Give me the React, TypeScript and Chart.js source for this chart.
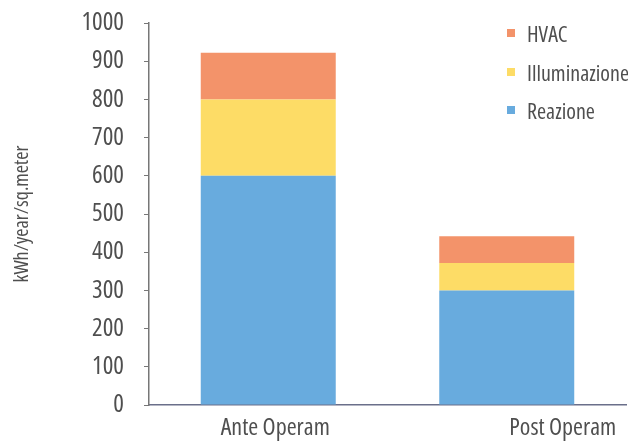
import React, { useEffect, useRef } from "react";
import { Chart, registerables } from "chart.js";

Chart.register(...registerables);

const categories = ["Ante Operam", "Post Operam"];
const reazione = [600, 300];
const illuminazione = [200, 72];
const hvac = [122, 70];
const yTicks = [0, 100, 200, 300, 400, 500, 600, 700, 800, 900, 1000];
const seriesNames = ["HVAC", "Illuminazione", "Reazione"];
const yTitle = "kWh/year/sq.meter";

// horizontal nudge of each category label relative to its bar (style only)
const labelShift = [7, 56];

const COL_BLUE = "rgb(104,171,222)";
const COL_YELLOW = "rgb(253,220,102)";
const COL_ORANGE = "rgb(243,147,106)";
const FAMILY = "'Open Sans', 'Roboto Condensed', sans-serif";
const TEXT = "#4f4f4f";

const catLabelPlugin = {
  id: "catLabels",
  afterDraw(chart: any) {
    const xs = chart.scales.x;
    const c = chart.ctx;
    c.save();
    c.font = "condensed 24px " + FAMILY;
    c.fillStyle = TEXT;
    c.textAlign = "center";
    c.textBaseline = "alphabetic";
    categories.forEach((lab, i) => {
      const x = xs.getPixelForValue(i) + labelShift[i];
      c.fillText(lab, x, xs.top + 30);
    });
    c.restore();
  },
};

export default function App() {
  const ref = useRef<HTMLCanvasElement | null>(null);

  useEffect(() => {
    document.body.style.margin = "0";
    const ctx = ref.current!.getContext("2d")!;
    const chart = new Chart(ctx, {
      type: "bar",
      data: {
        labels: categories,
        datasets: [
          { label: seriesNames[2], data: reazione, backgroundColor: COL_BLUE },
          { label: seriesNames[1], data: illuminazione, backgroundColor: COL_YELLOW },
          { label: seriesNames[0], data: hvac, backgroundColor: COL_ORANGE },
        ],
      },
      plugins: [catLabelPlugin],
      options: {
        animation: false,
        responsive: false,
        maintainAspectRatio: false,
        layout: { padding: { top: 23, right: 2, left: 0, bottom: 0 } },
        plugins: { legend: { display: false }, tooltip: { enabled: false } },
        datasets: { bar: { categoryPercentage: 1, barPercentage: 0.566 } },
        scales: {
          x: {
            stacked: true,
            grid: { display: false, drawOnChartArea: false },
            border: { display: true, color: "#6a6f8a", width: 1.5 },
            ticks: { display: false },
            afterFit: (s: any) => { s.height = 38; },
          },
          y: {
            stacked: true,
            min: 0,
            max: 1000,
            afterBuildTicks: (s: any) => { s.ticks = yTicks.map((v) => ({ value: v })); },
            grid: { drawOnChartArea: false, drawTicks: true, tickLength: 5, color: "#777" },
            border: { display: true, color: "#777", width: 1.5 },
            ticks: {
              color: TEXT,
              font: { family: FAMILY, size: 25, weight: "condensed" as any },
              padding: 20,
              callback: (v: any) => String(v),
            },
            title: {
              display: true,
              text: yTitle,
              color: TEXT,
              font: { family: FAMILY, size: 20, weight: "condensed" as any },
              padding: { top: 10, bottom: 0 },
            },
            afterFit: (s: any) => {
              s.width = 149;
              s.paddingTop = 0;
              s.paddingBottom = 0;
            },
          },
        },
      },
    });
    return () => chart.destroy();
  }, []);

  const legendItems = [
    { name: seriesNames[0], color: COL_ORANGE, top: 19 },
    { name: seriesNames[1], color: COL_YELLOW, top: 58 },
    { name: seriesNames[2], color: COL_BLUE, top: 96 },
  ];

  return (
    <div style={{ position: "relative", width: 628, height: 443, background: "#fff" }}>
      <canvas ref={ref} width={628} height={443} style={{ display: "block" }} />
      {legendItems.map((it) => (
        <div
          key={it.name}
          style={{
            position: "absolute",
            left: 507,
            top: it.top,
            display: "flex",
            alignItems: "center",
            fontFamily: FAMILY,
            fontStretch: "condensed",
            fontSize: 22,
            color: TEXT,
            lineHeight: "28px",
            whiteSpace: "nowrap",
          }}
        >
          <span style={{ display: "inline-block", width: 8, height: 8, background: it.color, marginRight: 12 }} />
          <span>{it.name}</span>
        </div>
      ))}
    </div>
  );
}
